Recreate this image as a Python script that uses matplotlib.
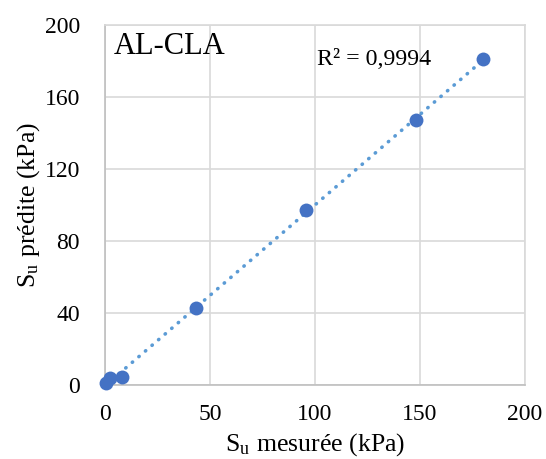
import numpy as np
import matplotlib.pyplot as plt

# Values
su_measured = [0.5, 2.4, 8.1, 43.3, 95.7, 148.0, 180.0]
su_predicted = [1.1, 3.9, 4.4, 42.8, 97.0, 147.0, 181.0]

x_ticks = [0, 50, 100, 150, 200]
y_ticks = [0, 40, 80, 120, 160, 200]

sample_label = "AL-CLA"
r2_label = "R² = 0,9994"

plt.rcParams["font.family"] = ["Liberation Serif", "DejaVu Serif"]
plt.rcParams["mathtext.fontset"] = "stix"

fig = plt.figure(figsize=(5.46, 4.59), dpi=100)
ax = fig.add_axes([0.1923, 0.1612, 0.9615 - 0.1923, 0.9455 - 0.1612])

# linear trendline through the data (Excel style)
slope, intercept = np.polyfit(su_measured, su_predicted, 1)
x_fit = np.array([min(su_measured), max(su_measured)])
ax.plot(x_fit, slope * x_fit + intercept, color="#5B9BD5", lw=2.6,
        linestyle=(0, (0.1, 2.3)), dash_capstyle="round", zorder=2)

ax.plot(su_measured, su_predicted, "o", color="#4472C4", markersize=10,
        markeredgewidth=0, zorder=3, clip_on=False)

ax.set_xlim(0, 200)
ax.set_ylim(0, 200)
ax.set_xticks(x_ticks)
ax.set_yticks(y_ticks)
ax.tick_params(length=0, labelsize=17, colors="black")
ax.tick_params(axis="x", pad=14)
ax.tick_params(axis="y", pad=18)

ax.grid(True, color="#D9D9D9", lw=1.2)
ax.set_axisbelow(True)
for spine in ax.spines.values():
    spine.set_color("#D9D9D9")
    spine.set_linewidth(1.2)
ax.spines["left"].set_color("#BFBFBF")
ax.spines["bottom"].set_color("#BFBFBF")

ax.set_xlabel(r"S$_\mathregular{u}$ mesurée (kPa)", fontsize=18.5, labelpad=4)
ax.set_ylabel(r"S$_\mathregular{u}$ prédite (kPa)", fontsize=18.5, labelpad=2)

ax.text(4, 196, sample_label, fontsize=22, va="top", ha="left")
ax.text(101, 181, r2_label, fontsize=17.2, va="center", ha="left")

fig.savefig("out.png", dpi=100)
